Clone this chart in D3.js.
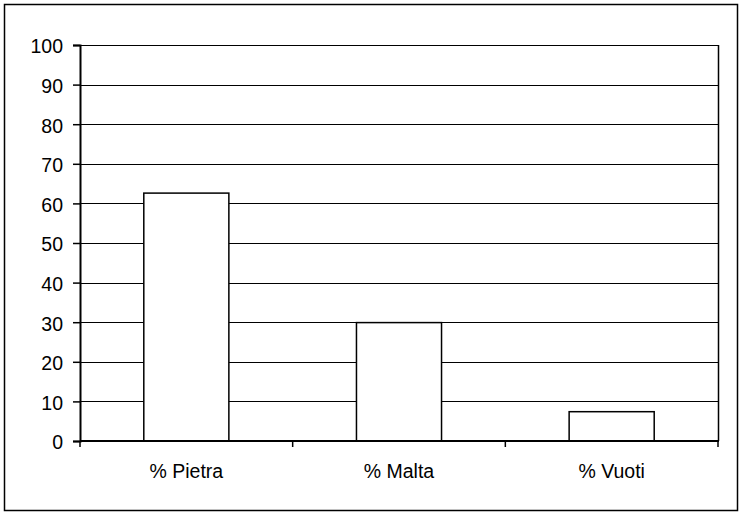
<!DOCTYPE html>
<html>
<head>
<meta charset="utf-8">
<script src="https://cdn.jsdelivr.net/npm/d3@7"></script>
<style>
  body { margin: 0; background: #fff; }
  text { font-family: "Liberation Sans", Arial, sans-serif; font-size: 19.5px; fill: #000; }
</style>
</head>
<body>
<svg id="chart" width="741" height="513"></svg>
<script>
var categories = ["% Pietra", "% Malta", "% Vuoti"]
var values = [62.6, 29.9, 7.4]
var yTicks = [0, 10, 20, 30, 40, 50, 60, 70, 80, 90, 100]

var dimensions = {
    width: 741,
    height: 513,
    margin: { top: 45, bottom: 72, left: 80, right: 23 }
}

var svg = d3.select("#chart")

// outer frame
svg.append("rect")
    .attr("x", 4.5).attr("y", 4.5)
    .attr("width", 733).attr("height", 506)
    .attr("fill", "#fff")
    .attr("stroke", "#000")
    .attr("stroke-width", 1.5)

var xScale = d3.scaleBand()
    .domain(categories)
    .range([dimensions.margin.left, dimensions.width - dimensions.margin.right])
    .paddingInner(0.6)
    .paddingOuter(0.3)

var yScale = d3.scaleLinear()
    .domain([0, 100])
    .range([dimensions.height - dimensions.margin.bottom, dimensions.margin.top])

var x0 = dimensions.margin.left
var x1 = dimensions.width - dimensions.margin.right

// gridlines
svg.append("g")
    .selectAll("line")
    .data(yTicks.filter(d => d > 0))
    .join("line")
    .attr("x1", x0).attr("x2", x1)
    .attr("y1", d => Math.round(yScale(d)) + 0.5)
    .attr("y2", d => Math.round(yScale(d)) + 0.5)
    .attr("stroke", "#000")
    .attr("stroke-width", 1.2)

// right border of plot area
svg.append("line")
    .attr("x1", x1 + 0.5).attr("x2", x1 + 0.5)
    .attr("y1", yScale(100)).attr("y2", yScale(0))
    .attr("stroke", "#000")
    .attr("stroke-width", 1.5)

// bars
svg.append("g")
    .selectAll("rect")
    .data(values)
    .join("rect")
    .attr("x", (d, i) => xScale(categories[i]))
    .attr("y", d => yScale(d))
    .attr("width", xScale.bandwidth())
    .attr("height", d => yScale(0) - yScale(d))
    .attr("fill", "#fff")
    .attr("stroke", "#000")
    .attr("stroke-width", 1.5)

// y axis
var yAxisGen = d3.axisLeft(yScale).tickValues(yTicks).tickSize(7).tickPadding(10)
var yAxis = svg.append("g")
    .attr("transform", `translate(${x0},0)`)
    .call(yAxisGen)
yAxis.attr("font-size", null).attr("font-family", null)
yAxis.select(".domain").attr("stroke-width", 2)
yAxis.selectAll(".tick line").attr("stroke-width", 1.5)
yAxis.selectAll("text").attr("dy", "0.4em")

// x axis: ticks on band boundaries
var bounds = [x0].concat(categories.map(c => xScale(c) + xScale.bandwidth() + xScale.step() * 0.3))
var xAxis = svg.append("g")
    .attr("transform", `translate(0,${yScale(0)})`)
xAxis.append("line")
    .attr("x1", x0).attr("x2", x1 + 1)
    .attr("stroke", "#000")
    .attr("stroke-width", 2)
xAxis.selectAll(".xt")
    .data(bounds)
    .join("line")
    .attr("class", "xt")
    .attr("x1", d => d).attr("x2", d => d)
    .attr("y1", 0).attr("y2", 6)
    .attr("stroke", "#000")
    .attr("stroke-width", 1.5)
xAxis.selectAll(".xl")
    .data(categories)
    .join("text")
    .attr("class", "xl")
    .attr("x", d => xScale(d) + xScale.bandwidth() / 2)
    .attr("y", 37)
    .attr("text-anchor", "middle")
    .text(d => d)
</script>
</body>
</html>
